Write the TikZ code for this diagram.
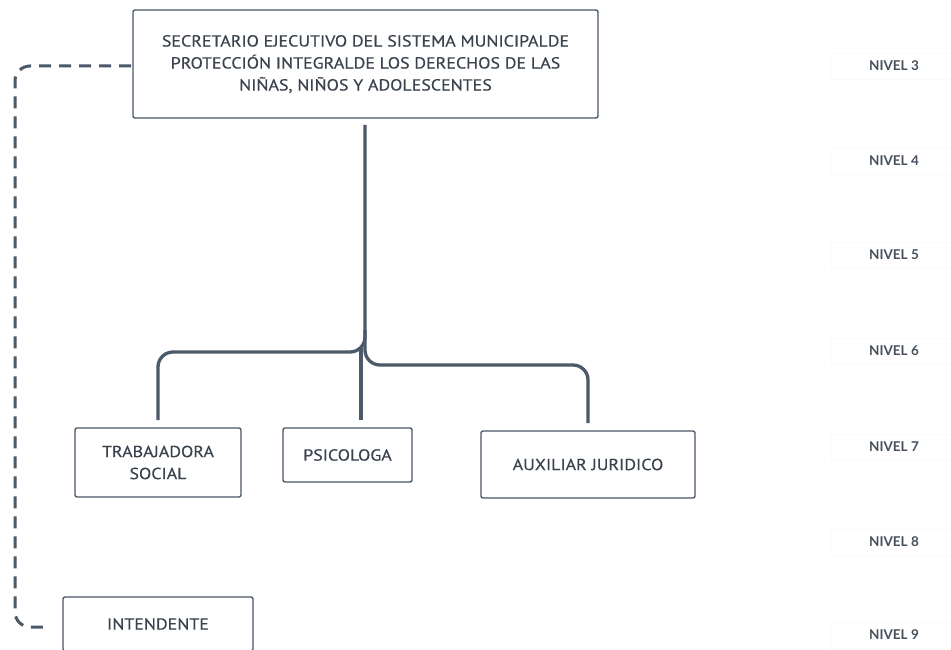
\documentclass[tikz,border=0pt]{standalone}
\usepackage{fontspec}
\setmainfont{PT Sans}[FakeStretch=1.12,FakeBold=0.35]
\newfontfamily\nivfont{Lato}
\definecolor{ink}{HTML}{3A434D}
\definecolor{lineclr}{HTML}{4B5968}
\definecolor{nivclr}{HTML}{46505C}
\begin{document}
\begin{tikzpicture}[x=1pt,y=-1pt,
  orgbox/.style={draw=lineclr,line width=1.4pt,rounded corners=2pt,fill=white,inner sep=0pt,align=center,text=ink,font=\fontsize{16}{22}\selectfont},
  conn/.style={draw=lineclr,line width=3.3pt,rounded corners=15pt},
  dconn/.style={draw=lineclr,line width=3pt,rounded corners=15pt,dash pattern=on 12pt off 8pt},
  nivbox/.style={draw=black!2,fill=white,line width=0.8pt,minimum width=125pt,minimum height=26pt,inner sep=0pt,text=nivclr,font=\nivfont\bfseries\fontsize{13.5}{15}\selectfont}]
\clip (0,0) rectangle (951,650);
\fill[white] (0,0) rectangle (951,650);
% level labels
\node[nivbox] (n3) at (894,66) {NIVEL 3};
\node[nivbox] (n4) at (894,161) {NIVEL 4};
\node[nivbox] (n5) at (894,255) {NIVEL 5};
\node[nivbox] (n6) at (894,351) {NIVEL 6};
\node[nivbox] (n7) at (894,447) {NIVEL 7};
\node[nivbox] (n8) at (894,542) {NIVEL 8};
\node[nivbox] (n9) at (894,635) {NIVEL 9};
% boxes
\node[orgbox,minimum width=465pt,minimum height=108pt] (top) at (365.5,64) {SECRETARIO EJECUTIVO DEL SISTEMA MUNICIPALDE\\PROTECCIÓN INTEGRALDE LOS DERECHOS DE LAS\\NIÑAS, NIÑOS Y ADOLESCENTES};
\node[orgbox,minimum width=166pt,minimum height=69pt] (ts) at (158,462.5) {TRABAJADORA\\SOCIAL};
\node[orgbox,minimum width=129pt,minimum height=54pt] (psi) at (347.5,455) {PSICOLOGA};
\node[orgbox,minimum width=214pt,minimum height=67pt] (aux) at (588,464.5) {AUXILIAR JURIDICO};
\node[orgbox,minimum width=190pt,minimum height=54pt] (int) at (158,624) {INTENDENTE};
% connector anchors
\coordinate (start) at (365,125);
\coordinate (tsT) at (158,420);
\coordinate (psiT) at (361,420);
\coordinate (auxT) at (588,423);
\coordinate (intL) at (47,627);
\coordinate (topL) at (131,66);
% connectors
\draw[conn] (start) -- (start |- 0,352) -- (tsT |- 0,352) -- (tsT);
\draw[conn] (365,330) -- (365,365) -- (auxT |- 0,365) -- (auxT);
\draw[draw=lineclr,line width=3.3pt] (361,348) -- (psiT);
\draw[dconn] (topL) -- (15,66) -- (15,627) -- (intL);
\end{tikzpicture}
\end{document}
